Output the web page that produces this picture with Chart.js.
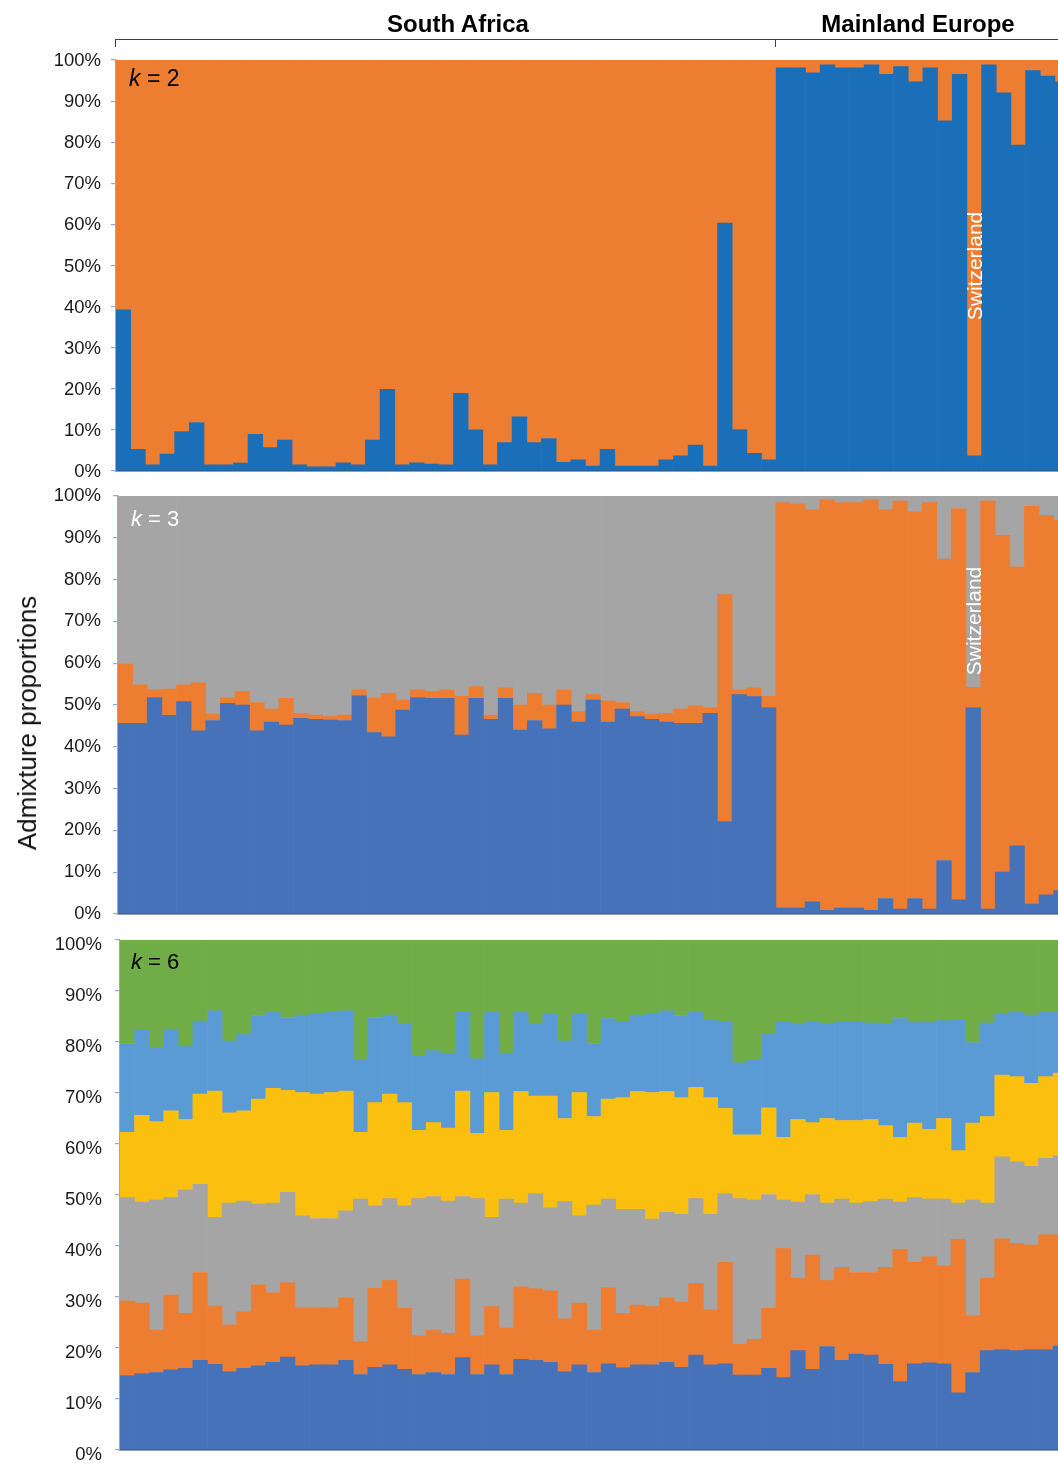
<!DOCTYPE html>
<html>
<head>
<meta charset="utf-8">
<title>Admixture proportions</title>
<script src="https://cdn.jsdelivr.net/npm/chart.js@4.4.1/dist/chart.umd.min.js"></script>
<style>
  html, body { margin: 0; padding: 0; background: #fff; overflow: hidden; }
  #fig { position: relative; width: 1058px; height: 1464px; overflow: hidden; background: #fff;
         font-family: "Liberation Sans", Arial, Helvetica, sans-serif; color: #000; }
  #fig canvas { position: absolute; }
  .txt { position: absolute; white-space: nowrap; line-height: 1; }
  .region { font-weight: bold; font-size: 24px; transform: translateX(-50%); }
  .klab { font-size: 23px; }
  .klab i { font-style: italic; }
  .vert { transform: translate(-50%, -50%) rotate(-90deg); transform-origin: center center; }
  .bracket { position: absolute; border-top: 1.5px solid #404040; }
  .btick { position: absolute; border-left: 1.5px solid #404040; height: 8px; }
</style>
</head>
<body>
<div id="fig">
  <canvas id="panelK2"></canvas>
  <canvas id="panelK3"></canvas>
  <canvas id="panelK6"></canvas>

  <div class="txt region" style="left:458px; top:12px;">South Africa</div>
  <div class="txt region" style="left:918px; top:12px;">Mainland Europe</div>
  <div class="bracket" id="bracketLine"></div>
  <div class="btick" id="bracketLeft"></div>
  <div class="btick" id="bracketMid"></div>

  <div class="txt klab" style="left:129px; top:67px; color:#000;"><i>k</i> = 2</div>
  <div class="txt klab" style="left:131px; top:508px; color:#fff; font-size:22px;"><i>k</i> = 3</div>
  <div class="txt klab" style="left:131px; top:951px; color:#000; font-size:22px;"><i>k</i> = 6</div>

  <div class="txt vert" style="left:27px; top:723px; font-size:26px; color:#111;">Admixture proportions</div>
  <div class="txt vert" id="swissK2" style="font-size:21px; color:#fff;">Switzerland</div>
  <div class="txt vert" id="swissK3" style="font-size:21px; color:#fff;">Switzerland</div>
</div>

<script>
// Sampling regions, in plotting order, and how many individuals each holds
const regionNames = ['South Africa', 'Mainland Europe'];
const regionCounts = [45, 20];
const sampleIds = [];
regionNames.forEach((r, ri) => {
  for (let i = 1; i <= regionCounts[ri]; i++) sampleIds.push(r + ' ' + i);
});
const swissIndex = 58;            // the Swiss individual among the European samples

// Percent tick labels shared by all three panels
const yTickValues = [0, 10, 20, 30, 40, 50, 60, 70, 80, 90, 100];

// ---- k = 2 cluster memberships (%) ----
const k2Blue = [
  39.2, 5.3, 1.5, 4.1, 9.6, 11.8, 1.5, 1.5, 1.9, 8.9,
  5.7, 7.5, 1.5, 1.0, 1.0, 2.0, 1.5, 7.5, 19.9, 1.5,
  2.0, 1.7, 1.5, 18.9, 10.0, 1.5, 6.9, 13.2, 6.9, 7.9,
  2.1, 2.7, 1.2, 5.3, 1.2, 1.2, 1.2, 2.7, 3.7, 6.3,
  1.2, 60.3, 10.1, 4.3, 2.7,
  98.1, 98.1, 96.9, 98.8, 98.1, 98.1, 98.8, 96.5, 98.4, 94.7,
  98.1, 85.2, 96.5, 3.7, 98.8, 92.0, 79.3, 97.4, 96.1, 94.7
];
const k2Orange = [
  60.8, 94.7, 98.5, 95.9, 90.4, 88.2, 98.5, 98.5, 98.1, 91.1,
  94.3, 92.5, 98.5, 99.0, 99.0, 98.0, 98.5, 92.5, 80.1, 98.5,
  98.0, 98.3, 98.5, 81.1, 90.0, 98.5, 93.1, 86.8, 93.1, 92.1,
  97.9, 97.3, 98.8, 94.7, 98.8, 98.8, 98.8, 97.3, 96.3, 93.7,
  98.8, 39.7, 89.9, 95.7, 97.3,
  1.9, 1.9, 3.1, 1.2, 1.9, 1.9, 1.2, 3.5, 1.6, 5.3,
  1.9, 14.8, 3.5, 96.3, 1.2, 8.0, 20.7, 2.6, 3.9, 5.3
];

// ---- k = 3 cluster memberships (%) ----
const k3Blue = [
  45.6, 45.6, 51.8, 47.5, 50.8, 43.8, 46.3, 50.4, 50.0, 43.8,
  45.9, 45.2, 46.8, 46.6, 46.4, 46.3, 52.2, 43.4, 42.4, 48.8,
  51.8, 51.6, 51.6, 42.8, 51.6, 46.6, 51.6, 44.0, 46.3, 44.3,
  50.0, 45.9, 51.2, 45.9, 49.0, 47.2, 46.6, 45.9, 45.6, 45.6,
  48.0, 22.1, 52.5, 52.0, 49.4,
  1.4, 1.4, 2.9, 0.9, 1.4, 1.4, 0.9, 3.7, 1.2, 3.7,
  1.2, 12.8, 3.4, 49.4, 1.2, 10.0, 16.3, 2.4, 4.6, 5.6
];
const k3Orange = [
  14.2, 9.2, 1.8, 6.3, 4.0, 11.5, 1.5, 1.4, 3.2, 6.8,
  3.1, 6.4, 1.2, 1.0, 0.8, 1.3, 1.4, 8.4, 10.4, 2.4,
  1.8, 1.6, 2.0, 9.3, 2.8, 1.0, 2.5, 6.0, 6.5, 5.7,
  3.7, 2.5, 1.3, 5.1, 1.6, 1.2, 1.2, 2.1, 3.4, 4.2,
  1.4, 54.3, 1.2, 2.1, 2.7,
  97.0, 96.8, 93.8, 98.2, 97.0, 97.0, 98.2, 93.0, 97.6, 92.5,
  97.2, 72.1, 93.6, 4.8, 97.6, 80.6, 66.7, 95.1, 90.8, 88.6
];
const k3Gray = [
  40.2, 45.2, 46.4, 46.2, 45.2, 44.7, 52.2, 48.2, 46.8, 49.4,
  51.0, 48.4, 52.0, 52.4, 52.8, 52.4, 46.4, 48.2, 47.2, 48.8,
  46.4, 46.8, 46.4, 47.9, 45.6, 52.4, 45.9, 50.0, 47.2, 50.0,
  46.3, 51.6, 47.5, 49.0, 49.4, 51.6, 52.2, 52.0, 51.0, 50.2,
  50.6, 23.6, 46.3, 45.9, 47.9,
  1.6, 1.8, 3.3, 0.9, 1.6, 1.6, 0.9, 3.3, 1.2, 3.8,
  1.6, 15.1, 3.0, 45.8, 1.2, 9.4, 17.0, 2.5, 4.6, 5.8
];

// ---- k = 6 cluster memberships (%) ----
const k6Blue = [
  14.6, 15.0, 15.2, 15.7, 16.0, 17.6, 16.8, 15.4, 16.0, 16.5,
  17.2, 18.2, 16.5, 16.7, 16.7, 17.6, 14.8, 16.2, 16.7, 15.8,
  14.8, 15.2, 14.8, 18.1, 14.8, 16.7, 14.8, 17.8, 17.6, 17.2,
  15.4, 16.7, 15.2, 16.9, 16.1, 16.7, 16.7, 17.2, 16.2, 18.6,
  16.7, 16.9, 14.7, 14.7, 16.0,
  14.2, 19.5, 15.8, 20.3, 17.6, 18.8, 18.6, 16.8, 13.4, 16.9,
  17.1, 16.9, 11.2, 15.2, 19.5, 19.7, 19.5, 19.7, 19.7, 20.4
];
const k6Orange = [
  14.6, 13.8, 8.3, 14.7, 10.8, 17.2, 11.4, 9.1, 11.1, 15.9,
  13.6, 14.6, 11.4, 11.2, 11.2, 12.3, 6.4, 15.5, 16.5, 12.0,
  7.6, 8.3, 8.1, 15.4, 7.6, 11.4, 9.1, 14.2, 14.0, 14.0,
  10.3, 12.1, 8.3, 14.9, 10.7, 11.7, 11.4, 12.7, 12.8, 14.1,
  10.8, 19.9, 6.0, 7.0, 11.8,
  25.3, 14.2, 22.4, 12.9, 18.2, 16.0, 16.2, 19.0, 25.9, 19.9,
  20.8, 19.2, 30.1, 11.1, 14.2, 21.7, 21.0, 20.5, 22.5, 21.8
];
const k6Gray = [
  20.3, 19.8, 25.5, 19.1, 24.2, 17.3, 17.4, 23.9, 21.7, 15.8,
  17.6, 17.7, 18.0, 17.5, 17.5, 17.0, 28.0, 16.2, 16.1, 20.1,
  26.9, 26.2, 25.9, 16.2, 26.9, 17.5, 25.3, 16.4, 18.7, 16.3,
  23.0, 17.1, 24.5, 17.4, 20.4, 18.8, 17.2, 16.7, 17.2, 16.6,
  18.7, 13.5, 28.6, 27.3, 22.3,
  9.5, 14.9, 11.9, 15.2, 13.4, 13.6, 13.9, 13.4, 9.3, 12.7,
  11.3, 13.1, 7.1, 22.7, 14.7, 16.1, 16.0, 15.4, 15.0, 15.5
];
const k6Yellow = [
  12.8, 17.0, 15.4, 17.0, 13.8, 17.7, 24.8, 17.7, 17.7, 20.6,
  22.5, 20.0, 24.2, 24.4, 24.7, 23.5, 13.1, 20.2, 20.5, 20.2,
  13.4, 14.5, 14.3, 20.7, 12.8, 24.5, 13.5, 21.9, 19.1, 21.9,
  16.3, 24.2, 17.4, 19.6, 21.9, 23.1, 24.8, 23.7, 22.9, 21.8,
  22.9, 16.7, 12.5, 12.8, 17.0,
  12.3, 16.2, 14.1, 16.6, 15.4, 16.2, 16.1, 14.4, 12.7, 14.6,
  13.7, 15.8, 10.3, 15.1, 17.0, 16.0, 16.7, 16.3, 16.0, 16.2
];
const k6LightBlue = [
  17.4, 16.8, 14.5, 15.9, 14.3, 14.3, 15.7, 14.1, 15.1, 16.4,
  14.9, 14.3, 15.2, 15.8, 15.7, 15.7, 14.2, 16.7, 15.5, 15.4,
  14.6, 14.1, 14.7, 15.4, 14.6, 15.7, 15.1, 15.5, 14.1, 16.1,
  15.2, 15.5, 14.3, 15.8, 14.9, 15.0, 15.5, 15.8, 16.1, 14.7,
  15.3, 17.0, 14.1, 14.8, 14.5,
  22.7, 18.7, 19.8, 18.5, 19.4, 19.4, 18.9, 19.9, 23.3, 19.7,
  20.9, 19.2, 25.7, 15.8, 18.3, 12.0, 12.6, 13.4, 12.6, 11.9
];
const k6Green = [
  20.3, 17.6, 21.1, 17.6, 20.9, 15.9, 13.9, 19.8, 18.4, 14.8,
  14.2, 15.2, 14.7, 14.4, 14.2, 13.9, 23.5, 15.2, 14.7, 16.5,
  22.7, 21.7, 22.2, 14.2, 23.3, 14.2, 22.2, 14.2, 16.5, 14.5,
  19.8, 14.4, 20.3, 15.4, 16.0, 14.7, 14.4, 13.9, 14.8, 14.2,
  15.6, 16.0, 24.1, 23.4, 18.4,
  16.0, 16.5, 16.0, 16.5, 16.0, 16.0, 16.3, 16.5, 15.4, 16.2,
  16.2, 15.8, 15.6, 20.1, 16.3, 14.5, 14.2, 14.7, 14.2, 14.2
];

// Cluster colours
const C = {
  k2Blue: '#1B6FB8',
  blue: '#4672BA',
  orange: '#ED7D31',
  gray: '#A5A5A5',
  yellow: '#FBBF10',
  lightBlue: '#5B9BD5',
  green: '#70AD47'
};

const FONT = 'Liberation Sans, Arial, sans-serif';
const PAD = 32;   // room above/below the plot for the end tick labels

// One stacked 0-100 % panel; geom gives the plot-area rectangle inside the figure
function buildPanel(id, geom, series, labelPad, labelShift) {
  const cvs = document.getElementById(id);
  const W = Math.ceil(geom.right) + 2;
  const H = geom.bottom - geom.top + 2 * PAD;
  cvs.width = W; cvs.height = H;
  cvs.style.left = '0px';
  cvs.style.top = (geom.top - PAD) + 'px';
  cvs.style.width = W + 'px';
  cvs.style.height = H + 'px';

  const chart = new Chart(cvs, {
    type: 'bar',
    data: {
      labels: sampleIds,
      datasets: series.map(s => ({
        label: s.label,
        data: s.data,
        backgroundColor: s.color,
        borderWidth: 0,
        barPercentage: 1,
        categoryPercentage: 1
      }))
    },
    options: {
      responsive: false,
      animation: false,
      devicePixelRatio: 1,
      layout: { padding: { top: PAD, bottom: PAD, left: 0, right: W - geom.right } },
      plugins: { legend: { display: false }, tooltip: { enabled: false }, title: { display: false } },
      scales: {
        x: {
          stacked: true,
          offset: true,
          z: 1,
          grid: { display: false },
          ticks: { display: false },
          border: { display: true, color: '#3c3c3c', width: 1.6 },
          afterFit: s => { s.height = 0; }
        },
        y: {
          stacked: true,
          min: 0,
          max: 100,
          z: 1,
          afterBuildTicks: s => { s.ticks = yTickValues.map(v => ({ value: v })); },
          ticks: {
            callback: v => v + '%',
            padding: labelPad,
            labelOffset: labelShift,
            color: '#1a1a1a',
            font: { family: FONT, size: 18.5 }
          },
          grid: { drawOnChartArea: false, drawTicks: true, tickLength: 5, color: '#8FAADC', lineWidth: 1.2 },
          border: { display: true, color: '#8FAADC', width: 1.4 },
          afterFit: s => { s.width = geom.left; }
        }
      }
    }
  });
  chart.$top = geom.top - PAD;
  return chart;
}

const chartK2 = buildPanel('panelK2', { left: 116, top: 60, bottom: 471, right: 1069.6 }, [
  { label: 'Cluster 1', data: k2Blue, color: C.k2Blue },
  { label: 'Cluster 2', data: k2Orange, color: C.orange }
], 10, 1);

const chartK3 = buildPanel('panelK3', { left: 118, top: 496, bottom: 914, right: 1068.3 }, [
  { label: 'Cluster 1', data: k3Blue, color: C.blue },
  { label: 'Cluster 2', data: k3Orange, color: C.orange },
  { label: 'Cluster 3', data: k3Gray, color: C.gray }
], 12, 0);

const chartK6 = buildPanel('panelK6', { left: 120, top: 940, bottom: 1450, right: 1067.7 }, [
  { label: 'Cluster 1', data: k6Blue, color: C.blue },
  { label: 'Cluster 2', data: k6Orange, color: C.orange },
  { label: 'Cluster 3', data: k6Gray, color: C.gray },
  { label: 'Cluster 4', data: k6Yellow, color: C.yellow },
  { label: 'Cluster 5', data: k6LightBlue, color: C.lightBlue },
  { label: 'Cluster 6', data: k6Green, color: C.green }
], 13, 5);

// Region bracket above the top panel
(function placeBracket() {
  const xs = chartK2.scales.x;
  const step = xs.getPixelForValue(1) - xs.getPixelForValue(0);
  const left = xs.getPixelForValue(0) - step / 2;
  const split = xs.getPixelForValue(regionCounts[0] - 1) + step / 2;
  const line = document.getElementById('bracketLine');
  line.style.left = (left - 0.75) + 'px';
  line.style.top = '39px';
  line.style.width = (1100 - left) + 'px';
  const bl = document.getElementById('bracketLeft');
  bl.style.left = (left - 0.75) + 'px'; bl.style.top = '39px';
  const bm = document.getElementById('bracketMid');
  bm.style.left = (split - 1.25) + 'px'; bm.style.top = '39px';
})();

// Switzerland labels run up the Swiss bar
function placeSwiss(elId, chart, value) {
  const el = document.getElementById(elId);
  el.style.left = chart.scales.x.getPixelForValue(swissIndex) + 'px';
  el.style.top = (chart.$top + chart.scales.y.getPixelForValue(value)) + 'px';
}
placeSwiss('swissK2', chartK2, 50);
placeSwiss('swissK3', chartK3, 70);
</script>
</body>
</html>
